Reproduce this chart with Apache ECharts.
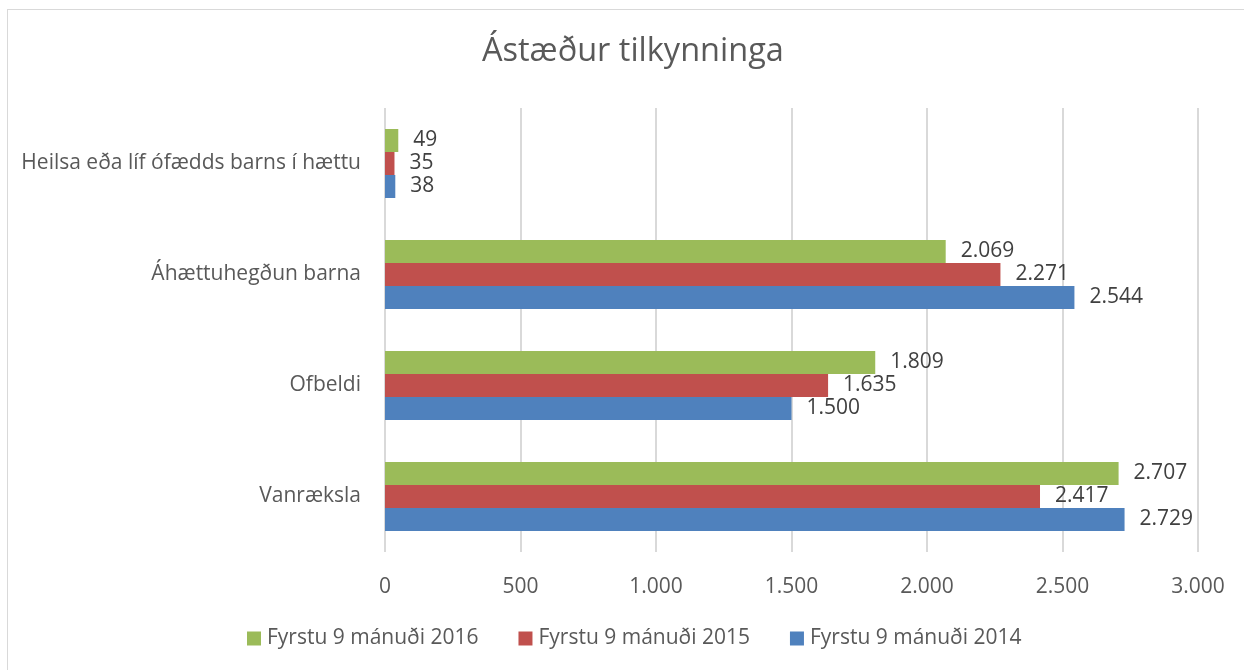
<!DOCTYPE html>
<html><head><meta charset="utf-8">
<script src="https://cdn.jsdelivr.net/npm/echarts@6/dist/echarts.min.js"></script>
<style>
html,body{margin:0;padding:0;background:#fff;overflow:hidden;}
#frame{position:absolute;left:7px;top:9px;width:1260px;height:700px;border:1px solid #d9d9d9;box-sizing:border-box;}
#chart{position:absolute;left:0;top:0;width:1244px;height:670px;}
</style></head>
<body><div id="frame"></div><div id="chart"></div>
<script>
const categories = ["Vanræksla", "Ofbeldi", "Áhættuhegðun barna", "Heilsa eða líf ófædds barns í hættu"];
const seriesNames = ["Fyrstu 9 mánuði 2016", "Fyrstu 9 mánuði 2015", "Fyrstu 9 mánuði 2014"];
const values2016 = [2707, 1809, 2069, 49];
const values2015 = [2417, 1635, 2271, 35];
const values2014 = [2729, 1500, 2544, 38];
const colors = ["#9BBB59", "#C0504D", "#4F81BD"];
const titleText = "Ástæður tilkynninga";

const fmt = v => {
  const s = String(Math.round(v));
  return s.replace(/\B(?=(\d{3})+(?!\d))/g, ".");
};
const FONT = "Open Sans";
const chart = echarts.init(document.getElementById('chart'), null, {renderer:'canvas'});
const data = [values2016, values2015, values2014];
chart.setOption({
  animation:false,
  title:{text:titleText,left:477,top:30,textStyle:{fontFamily:FONT,fontSize:32.5,fontWeight:'normal',color:'#595959'}},
  grid:{left:385,right:46,top:108,bottom:118,containLabel:false},
  legend:{data:seriesNames,bottom:16,left:242,itemWidth:14,itemHeight:14,itemGap:40,icon:'rect',
    textStyle:{fontFamily:FONT,fontSize:21,color:'#595959',padding:[0,0,0,1]}},
  xAxis:{type:'value',min:0,max:3000,interval:500,
    axisLine:{show:false},axisTick:{show:false},
    axisLabel:{formatter:fmt,fontFamily:FONT,fontSize:21,color:'#595959',margin:25},
    splitLine:{lineStyle:{color:'#d9d9d9',width:2}}},
  yAxis:{type:'category',data:categories,
    axisLine:{show:false},axisTick:{show:false},
    axisLabel:{fontFamily:FONT,fontSize:21,color:'#595959',margin:24}},
  series:data.map((d,i)=>({
    name:seriesNames[i],type:'bar',data:d,barWidth:23,barGap:'0%',barCategoryGap:'37%',
    itemStyle:{color:colors[i]},
    label:{show:true,position:'right',distance:15,formatter:p=>fmt(p.value),fontFamily:FONT,fontSize:21,color:'#404040'}
  }))
});
</script></body></html>
